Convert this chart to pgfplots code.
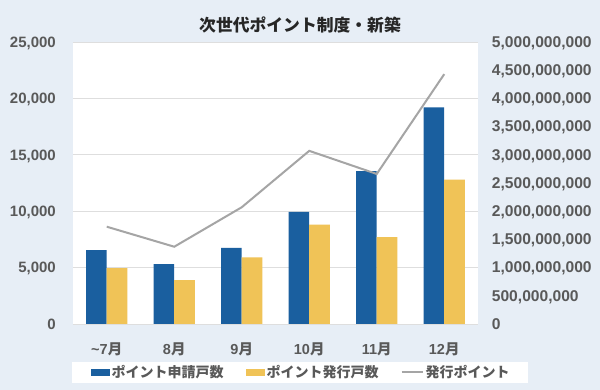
\documentclass[border=0pt]{standalone}
\usepackage{fontspec}
\setmainfont{Liberation Sans}
\newfontfamily\cjk{Noto Sans CJK JP}
\usepackage{pgfplots}
\pgfplotsset{compat=1.18}
\definecolor{bg}{HTML}{E7EEF6}
\definecolor{barblue}{HTML}{1A5F9F}
\definecolor{baryellow}{HTML}{F0C357}
\definecolor{linegray}{HTML}{A5A5A5}
\definecolor{ticktext}{HTML}{595959}
\definecolor{gridc}{HTML}{DEDEDE}
\begin{document}
\begin{tikzpicture}[x=1pt,y=1pt]
\fill[bg] (0,0) rectangle (600,390);
\fill[white] (73,65) rectangle (478,348);
\fill[white] (72,6.7) rectangle (528,28.3);
\node[font=\cjk\bfseries\fontsize{16.8}{18}\selectfont, text=black!85] at (300,365) {次世代ポイント制度・新築};
\begin{axis}[
  at={(73pt,66pt)}, anchor=south west,
  scale only axis, width=405pt, height=282pt,
  xmin=-0.5, xmax=5.5, ymin=0, ymax=25000,
  ytick={0,5000,10000,15000,20000,25000},
  xtick={0,1,2,3,4,5},
  xticklabels={{\textasciitilde7{\cjk 月}},{8{\cjk 月}},{9{\cjk 月}},{10{\cjk 月}},{11{\cjk 月}},{12{\cjk 月}}},
  /pgf/number format/assume math mode=true,
  /pgf/number format/1000 sep={,},
  scaled y ticks=false,
  axis line style={draw=none},
  tick style={draw=none},
  ymajorgrids, major grid style={gridc, line width=0.9pt},
  yticklabel style={anchor=base east, inner sep=0pt, xshift=-17pt, yshift=-5.3pt, font=\bfseries\fontsize{15}{17}\selectfont, text=ticktext},
  xticklabel style={anchor=center, inner sep=0pt, yshift=-21pt, font=\bfseries\fontsize{14.5}{17}\selectfont, text=ticktext},
  ybar=0pt, bar width=20.6pt,
  legend columns=3,
  legend style={at={(0.5630,-0.172)}, anchor=center, draw=none, fill=white,
    font=\cjk\bfseries\fontsize{14}{16}\selectfont, text=ticktext, inner xsep=3pt, inner ysep=1pt,
    /tikz/every even column/.append style={column sep=20pt}},
  legend cell align=left,
]
\addplot[fill=barblue, draw=none, area legend, legend image code/.code={\fill[barblue] (0pt,-3.5pt) rectangle (19pt,3.5pt);}] coordinates {(0,6550) (1,5300) (2,6750) (3,9950) (4,13550) (5,19200)};
\addlegendentry{ポイント申請戸数}
\addplot[fill=baryellow, draw=none, area legend, legend image code/.code={\fill[baryellow] (0pt,-3.5pt) rectangle (19pt,3.5pt);}] coordinates {(0,4950) (1,3900) (2,5900) (3,8800) (4,7700) (5,12800)};
\addlegendentry{ポイント発行戸数}
\addlegendimage{legend image code/.code={\draw[linegray, line width=2pt] (0pt,0pt) -- (21pt,0pt);}}
\addlegendentry{発行ポイント}
\end{axis}
\begin{axis}[
  at={(73pt,66pt)}, anchor=south west,
  scale only axis, width=405pt, height=282pt,
  xmin=-0.5, xmax=5.5, ymin=0, ymax=5000000000,
  axis x line=none, axis y line*=right,
  axis line style={draw=none},
  tick style={draw=none},
  ytick={0,500000000,1000000000,1500000000,2000000000,2500000000,3000000000,3500000000,4000000000,4500000000,5000000000},
  /pgf/number format/assume math mode=true,
  /pgf/number format/fixed, /pgf/number format/precision=0,
  /pgf/number format/1000 sep={,},
  scaled y ticks=false,
  yticklabel style={anchor=base west, inner sep=0pt, xshift=13.7pt, yshift=-5.4pt, font=\bfseries\fontsize{15.6}{17}\selectfont, text=ticktext},
]
\addplot[linegray, line width=2pt, mark=none] coordinates {(0,1725000000) (1,1370000000) (2,2070000000) (3,3070000000) (4,2660000000) (5,4430000000)};
\end{axis}
\end{tikzpicture}
\end{document}
